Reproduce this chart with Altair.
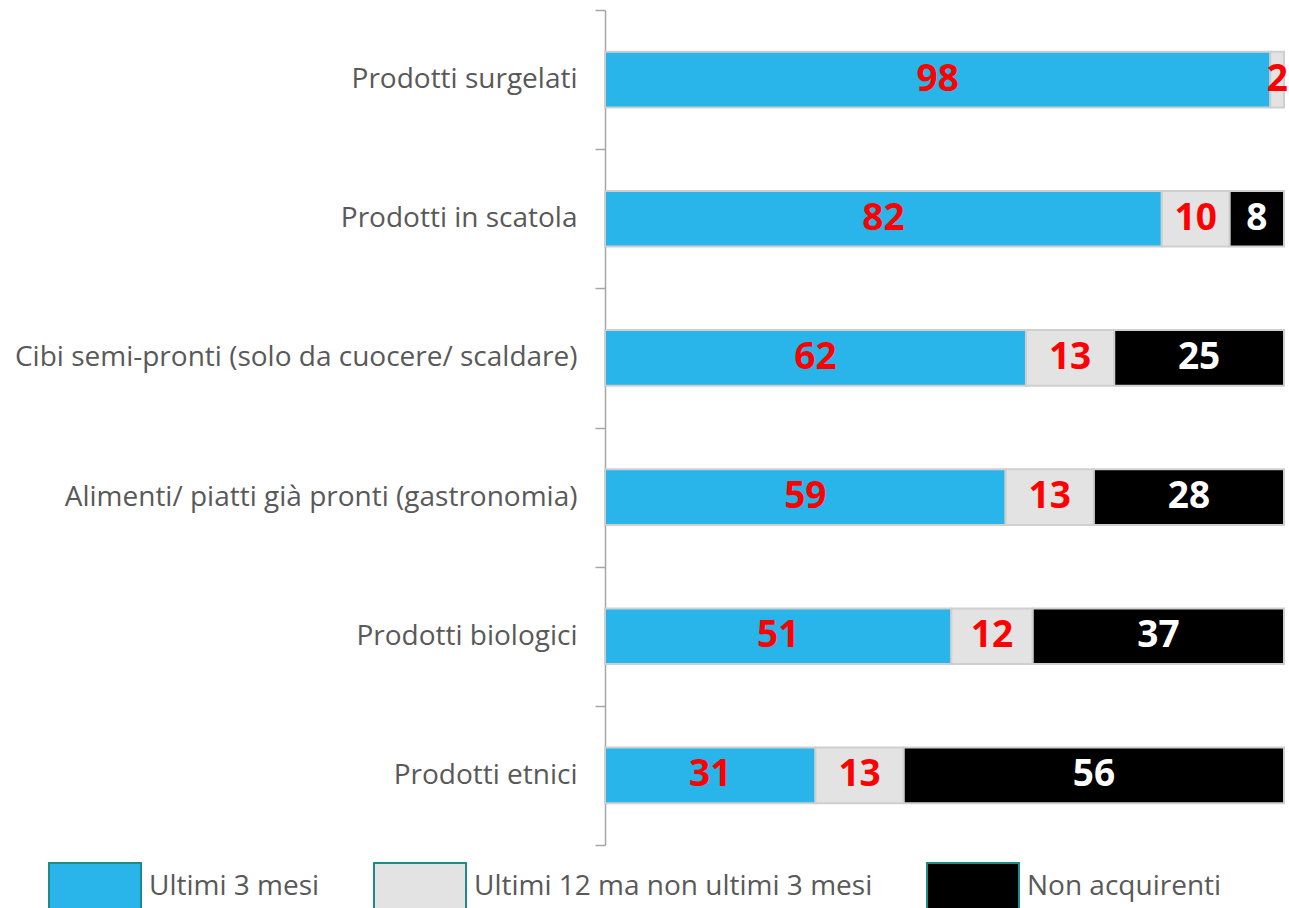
import altair as alt
import pandas as pd

categories = [
    "Prodotti surgelati",
    "Prodotti in scatola",
    "Cibi semi-pronti (solo da cuocere/ scaldare)",
    "Alimenti/ piatti già pronti (gastronomia)",
    "Prodotti biologici",
    "Prodotti etnici",
]
series = ["Ultimi 3 mesi", "Ultimi 12 ma non ultimi 3 mesi", "Non acquirenti"]
ultimi_3 = [98, 82, 62, 59, 51, 31]
ultimi_12 = [2, 10, 13, 13, 12, 13]
non_acquirenti = [0, 8, 25, 28, 37, 56]
fill_colors = ["#2ab5ea", "#e3e3e3", "#000000"]

rows = []
for i, c in enumerate(categories):
    for j, vals in enumerate([ultimi_3, ultimi_12, non_acquirenti]):
        rows.append({"cat": c, "series": series[j], "order": j, "value": vals[i]})
df = pd.DataFrame(rows)

base = (
    alt.Chart(df)
    .transform_filter("datum.value > 0")
    .transform_stack(stack="value", groupby=["cat"], as_=["x0", "x1"],
                     sort=[alt.SortField("order", order="ascending")])
    .transform_calculate(mid="(datum.x0 + datum.x1) / 2")
)

xs = alt.Scale(domain=[0, 100], nice=False, zero=True)
y_enc = alt.Y(
    "cat:N", sort=categories, title=None,
    scale=alt.Scale(paddingInner=0, paddingOuter=0),
    axis=alt.Axis(
        domainColor="#a6a6a6", domainWidth=1.5, tickColor="#a6a6a6", tickWidth=1.5,
        tickSize=10, tickBand="extent", labelPadding=18, labelFont="Open Sans",
        labelFontSize=28, labelColor="#595959", labelLimit=700,
    ),
)

legend_shape = "M-1,-0.52H1V0.52H-1Z"

bars = base.mark_bar(stroke="#cfcfcf", strokeWidth=2, height=alt.RelativeBandSize(0.4)).encode(
    x=alt.X("x0:Q", scale=xs, axis=None),
    x2="x1:Q",
    y=y_enc,
    fill=alt.Fill(
        "series:N", sort=series,
        scale=alt.Scale(domain=series, range=fill_colors),
        legend=alt.Legend(
            title=None, orient="none", legendX=-557, legendY=830, direction="horizontal",
            symbolType=legend_shape, symbolSize=8464, symbolStrokeColor="#1f8a8a",
            symbolStrokeWidth=2, symbolOpacity=1, labelFont="Open Sans", labelFontSize=28,
            labelColor="#595959", labelOffset=7, columnPadding=50, padding=0, labelLimit=600,
        ),
    ),
)

labels = base.mark_text(font="Open Sans", fontWeight="bold", fontSize=37, baseline="middle").encode(
    x=alt.X("mid:Q", scale=xs, axis=None),
    y=alt.Y("cat:N", sort=categories),
    text="value:Q",
    color=alt.condition("datum.series == 'Non acquirenti'", alt.value("#ffffff"), alt.value("#ff0000")),
)

chart = (
    alt.layer(bars, labels)
    .properties(
        width=679, height=835,
        background="white",
        autosize=alt.AutoSizeParams(type="none"),
        padding={"left": 605, "top": 10, "right": 5, "bottom": 70},
    )
    .configure_view(strokeWidth=0, stroke="transparent")
)

chart.save("out.html", embed_options={"renderer": "svg", "actions": False})
